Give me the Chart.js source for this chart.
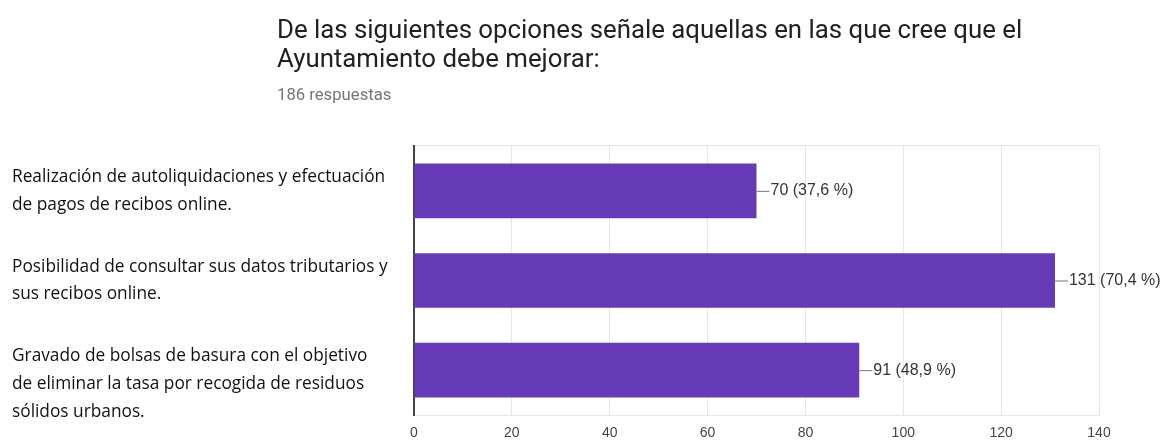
<!DOCTYPE html>
<html>
<head>
<meta charset="utf-8">
<script src="https://cdn.jsdelivr.net/npm/chart.js@4"></script>
<style>
  html, body { margin: 0; padding: 0; background: #fff; }
  #wrap { position: relative; width: 1166px; height: 440px; overflow: hidden; }
  #chart { position: absolute; left: 0; top: 0; }
  #title {
    position: absolute; left: 277px; top: 15px;
    font-family: Roboto, sans-serif; font-size: 25.8px; line-height: 29px; color: #212121;
  }
  #subtitle {
    position: absolute; left: 277px; top: 85px;
    font-family: Roboto, sans-serif; font-size: 16.7px; color: #757575;
  }
</style>
</head>
<body>
<div id="wrap">
  <canvas id="chart" width="1166" height="440"></canvas>
  <div id="title">De las siguientes opciones señale aquellas en las que cree que el<br>Ayuntamiento debe mejorar:</div>
  <div id="subtitle">186 respuestas</div>
</div>
<script>
// Chart data
const categories = [
  ['Realización de autoliquidaciones y efectuación', 'de pagos de recibos online.'],
  ['Posibilidad de consultar sus datos tributarios y', 'sus recibos online.'],
  ['', 'Gravado de bolsas de basura con el objetivo', 'de eliminar la tasa por recogida de residuos', 'sólidos urbanos.']
];
const responses = [70, 131, 91];
const totalResponses = 186;
const xTicks = [0, 20, 40, 60, 80, 100, 120, 140];

const barColor = '#673ab7';

// Draws "—70 (37,6 %)" style labels at the end of each bar
const valueLabels = {
  id: 'valueLabels',
  afterDatasetsDraw(chart) {
    const ctx = chart.ctx;
    const meta = chart.getDatasetMeta(0);
    ctx.save();
    ctx.font = '16px "Liberation Sans", Arial, sans-serif';
    ctx.textBaseline = 'middle';
    ctx.textAlign = 'left';
    meta.data.forEach((bar, i) => {
      const v = responses[i];
      const pct = (v / totalResponses * 100).toFixed(1).replace('.', ',');
      ctx.strokeStyle = '#777';
      ctx.lineWidth = 1;
      ctx.beginPath();
      ctx.moveTo(bar.x, bar.y + 0.5);
      ctx.lineTo(bar.x + 13, bar.y + 0.5);
      ctx.stroke();
      ctx.fillStyle = '#333';
      ctx.fillText(v + ' (' + pct + ' %)', bar.x + 14, bar.y);
    });
    ctx.restore();
  }
};

new Chart(document.getElementById('chart'), {
  type: 'bar',
  data: {
    labels: categories,
    datasets: [{
      data: responses,
      backgroundColor: barColor,
      borderWidth: 0,
      categoryPercentage: 1,
      barPercentage: 0.61
    }]
  },
  options: {
    indexAxis: 'y',
    responsive: false,
    animation: false,
    events: [],
    layout: { padding: { top: 146, right: 67, bottom: 0, left: 12 } },
    plugins: {
      legend: { display: false },
      tooltip: { enabled: false }
    },
    scales: {
      x: {
        min: 0,
        max: 140,
        afterBuildTicks: (scale) => { scale.ticks = xTicks.map(v => ({ value: v })); },
        afterFit: (scale) => { scale.height = 25; },
        grid: { color: '#e6e6e6', lineWidth: 1, drawTicks: false },
        border: { display: true, color: '#e6e6e6', width: 1 },
        ticks: {
          padding: 11,
          color: '#444',
          font: { family: '"Liberation Sans", Arial, sans-serif', size: 14, lineHeight: 1 }
        }
      },
      y: {
        afterFit: (scale) => {
          scale.width = 402;
          // tall multi-line labels should not shrink the plot area
          scale.paddingTop = 0;
          scale.paddingBottom = 0;
        },
        grid: {
          drawTicks: false,
          color: (c) => (c.index === 0 ? '#e6e6e6' : 'rgba(0,0,0,0)')
        },
        border: { display: true, color: '#444', width: 2 },
        ticks: {
          autoSkip: false,
          crossAlign: 'far',
          color: '#111',
          font: { family: '"Open Sans", sans-serif', size: 17.3, lineHeight: 1.6 }
        }
      }
    }
  },
  plugins: [valueLabels]
});
</script>
</body>
</html>
